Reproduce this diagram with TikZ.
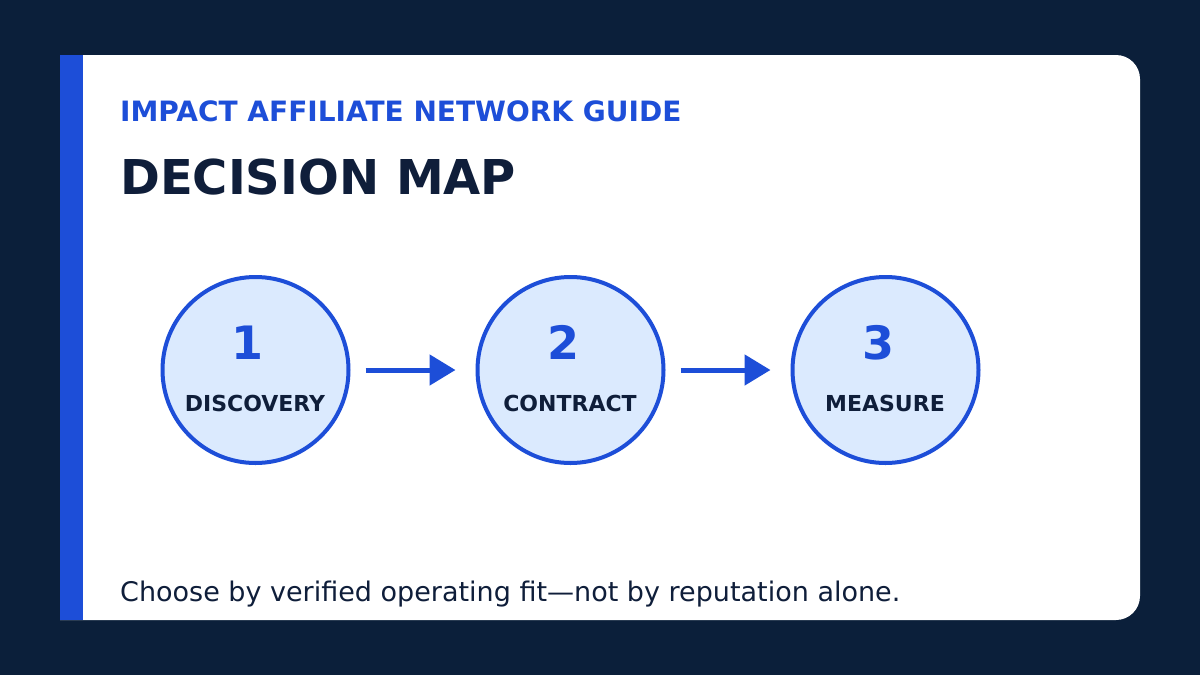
\documentclass[tikz,border=0pt]{standalone}
\usepackage{fontspec}
\setmainfont{DejaVu Sans}
\usetikzlibrary{arrows.meta}
\definecolor{navy}{HTML}{0B1F3A}
\definecolor{brand}{HTML}{1D4ED8}
\definecolor{lightfill}{HTML}{DBEAFE}
\definecolor{ink}{HTML}{0F1E3A}
\tikzset{
  stepcircle/.style={circle, draw=brand, fill=lightfill, line width=4pt, minimum size=186pt, inner sep=0pt},
  numtext/.style={text=brand, font=\fontsize{46}{50}\selectfont\bfseries, anchor=base, inner sep=0pt},
  labtext/.style={text=ink, font=\fontsize{22}{24}\selectfont\bfseries, anchor=base, inner sep=0pt},
  flowarrow/.style={draw=brand, line width=5pt, -{Triangle[length=26pt,width=30pt]}, shorten <=15pt, shorten >=20pt}
}
\begin{document}
\begin{tikzpicture}[x=1pt,y=-1pt]
\useasboundingbox (0,0) rectangle (1200,675);
\fill[navy] (0,0) rectangle (1200,675);
\fill[white, rounded corners=24pt] (30,55) rectangle (1140,620);
\fill[navy] (29,54) rectangle (60,621);
\fill[brand] (60,55) rectangle (83,620);

\node[anchor=base west, inner sep=0pt, text=brand, font=\fontsize{28}{32}\selectfont\bfseries] (kicker) at (120,121) {IMPACT AFFILIATE NETWORK GUIDE};
\node[anchor=base west, inner sep=0pt, text=ink, font=\fontsize{48}{54}\selectfont\bfseries] (title) at (120,194) {DECISION MAP};

\node[stepcircle] (c1) at (255.5,370) {};
\node[stepcircle] (c2) at (570.5,370) {};
\node[stepcircle] (c3) at (885.5,370) {};

\node[numtext] (n1) at (248,359) {1};
\node[numtext] (n2) at (563,359) {2};
\node[numtext] (n3) at (878,359) {3};

\node[labtext] (l1) at (255,411) {DISCOVERY};
\node[labtext] (l2) at (570,411) {CONTRACT};
\node[labtext] (l3) at (885,411) {MEASURE};

\draw[flowarrow] (c1.east) -- (c2.west);
\draw[flowarrow] (c2.east) -- (c3.west);

\node[anchor=base west, inner sep=0pt, text=ink, font=\fontsize{27}{30}\selectfont] (foot) at (120,601) {Choose by verified operating fit—not by reputation alone.};
\end{tikzpicture}
\end{document}
